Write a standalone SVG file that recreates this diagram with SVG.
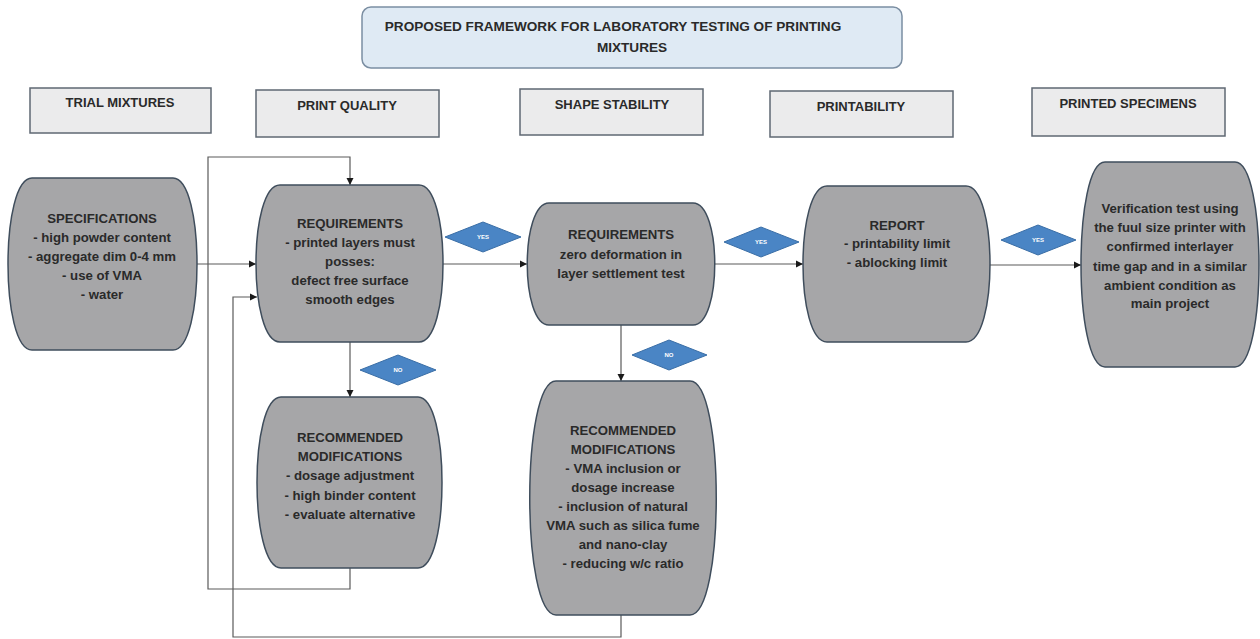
<svg xmlns="http://www.w3.org/2000/svg" width="1260" height="639" viewBox="0 0 1260 639">
<defs>
<style>
.t{font-family:"Liberation Sans",Arial,sans-serif;font-weight:bold;fill:#2a2a2a;text-anchor:middle}
.nt{font-size:13.2px}
.ht{font-size:13px}
.node{fill:#a6a6a8;stroke:#3f4d5c;stroke-width:1.5}
.hdr{fill:#ebebec;stroke:#5f6873;stroke-width:1.5}
.dia{fill:#4a85c5;stroke:#3a6ea6;stroke-width:1}
.dt{font-family:"Liberation Sans",Arial,sans-serif;font-weight:bold;font-size:6px;fill:#fff;text-anchor:middle}
.c{fill:none;stroke:#5a5a5a;stroke-width:1.2}
</style>
<marker id="ah" markerWidth="8" markerHeight="8" refX="7" refY="4" orient="auto" markerUnits="userSpaceOnUse">
<path d="M0,0.5 L7,4 L0,7.5 Z" fill="#1a1a1a"/>
</marker>
</defs>
<rect width="1260" height="639" fill="#ffffff"/>

<g id="title">
<rect x="362" y="7" width="540" height="61" rx="9" fill="#dfeaf4" stroke="#7b8ea2" stroke-width="1.5"/>
<text class="t" x="613" y="31" font-size="13.6">PROPOSED FRAMEWORK FOR LABORATORY TESTING OF PRINTING</text>
<text class="t" x="632" y="52" font-size="13.6">MIXTURES</text>
</g>

<g id="hdr-trial"><rect class="hdr" x="30" y="88" width="181" height="45"/><text class="t ht" x="120" y="107">TRIAL MIXTURES</text></g>
<g id="hdr-print"><rect class="hdr" x="256" y="90" width="183" height="47"/><text class="t ht" x="347" y="110">PRINT QUALITY</text></g>
<g id="hdr-shape"><rect class="hdr" x="520" y="89" width="183" height="46"/><text class="t ht" x="612" y="109">SHAPE STABILITY</text></g>
<g id="hdr-printability"><rect class="hdr" x="770" y="91" width="183" height="46"/><text class="t ht" x="861" y="111">PRINTABILITY</text></g>
<g id="hdr-specimens"><rect class="hdr" x="1032" y="88" width="193" height="48"/><text class="t ht" x="1128" y="108">PRINTED SPECIMENS</text></g>

<g id="connectors">
<line class="c" x1="197" y1="264" x2="256" y2="264" marker-end="url(#ah)"/>
<line class="c" x1="443" y1="264" x2="527" y2="264" marker-end="url(#ah)"/>
<line class="c" x1="715" y1="264" x2="803" y2="264" marker-end="url(#ah)"/>
<line class="c" x1="990" y1="265" x2="1081" y2="265" marker-end="url(#ah)"/>
<line class="c" x1="350" y1="342" x2="350" y2="397" marker-end="url(#ah)"/>
<line class="c" x1="621" y1="325" x2="621" y2="381" marker-end="url(#ah)"/>
<polyline class="c" points="350,568 350,589 208,589 208,157 350,157 350,185" marker-end="url(#ah)"/>
<polyline class="c" points="621,615 621,637 233,637 233,297 257,297" marker-end="url(#ah)"/>
</g>

<g id="yes1"><polygon class="dia" points="445,237 483,222 521,237 483,252"/><text class="dt" x="483" y="239">YES</text></g>
<g id="yes2"><polygon class="dia" points="724,242 761,227 799,242 761,257"/><text class="dt" x="761" y="244">YES</text></g>
<g id="yes3"><polygon class="dia" points="1001,240 1038,225 1076,240 1038,255"/><text class="dt" x="1038" y="242">YES</text></g>
<g id="no1"><polygon class="dia" points="360,370 398,355 436,370 398,385"/><text class="dt" x="398" y="372">NO</text></g>
<g id="no2"><polygon class="dia" points="632,355 669,340 707,355 669,370"/><text class="dt" x="669" y="357">NO</text></g>

<g id="specifications">
<path class="node" d="M32,178 H173 C205,178 205,350 173,350 H32 C0,350 0,178 32,178 Z"/>
<text class="t nt" x="102" y="223">SPECIFICATIONS</text>
<text class="t nt" x="102" y="242">- high powder content</text>
<text class="t nt" x="102" y="261">- aggregate dim 0-4 mm</text>
<text class="t nt" x="102" y="280">- use of VMA</text>
<text class="t nt" x="102" y="299">- water</text>
</g>

<g id="req-print">
<path class="node" d="M280,185 H419 C451,185 451,342 419,342 H280 C248,342 248,185 280,185 Z"/>
<text class="t nt" x="350" y="228">REQUIREMENTS</text>
<text class="t nt" x="350" y="247">- printed layers must</text>
<text class="t nt" x="350" y="266">posses:</text>
<text class="t nt" x="350" y="285">defect free surface</text>
<text class="t nt" x="350" y="304">smooth edges</text>
</g>

<g id="req-shape">
<path class="node" d="M549,203 H693 C722,203 722,325 693,325 H549 C520,325 520,203 549,203 Z"/>
<text class="t nt" x="621" y="239">REQUIREMENTS</text>
<text class="t nt" x="621" y="259">zero deformation in</text>
<text class="t nt" x="621" y="278">layer settlement test</text>
</g>

<g id="report">
<path class="node" d="M827,186 H966 C998,186 998,342 966,342 H827 C795,342 795,186 827,186 Z"/>
<text class="t nt" x="897" y="230">REPORT</text>
<text class="t nt" x="897" y="248">- printability limit</text>
<text class="t nt" x="897" y="267">- ablocking limit</text>
</g>

<g id="verification">
<path class="node" d="M1105,162 H1235 C1267,162 1267,367 1235,367 H1105 C1073,367 1073,162 1105,162 Z"/>
<text class="t nt" x="1170" y="213">Verification test using</text>
<text class="t nt" x="1170" y="232">the fuul size printer with</text>
<text class="t nt" x="1170" y="251">confirmed interlayer</text>
<text class="t nt" x="1170" y="271">time gap and in a similar</text>
<text class="t nt" x="1170" y="290">ambient condition as</text>
<text class="t nt" x="1170" y="308">main project</text>
</g>

<g id="mod-print">
<path class="node" d="M281,397 H418 C450,397 450,568 418,568 H281 C249,568 249,397 281,397 Z"/>
<text class="t nt" x="350" y="442">RECOMMENDED</text>
<text class="t nt" x="350" y="461">MODIFICATIONS</text>
<text class="t nt" x="350" y="480">- dosage adjustment</text>
<text class="t nt" x="350" y="500">- high binder content</text>
<text class="t nt" x="350" y="519">- evaluate alternative</text>
</g>

<g id="mod-shape">
<path class="node" d="M556,381 H690 C725,381 725,615 690,615 H556 C521,615 521,381 556,381 Z"/>
<text class="t nt" x="623" y="435">RECOMMENDED</text>
<text class="t nt" x="623" y="454">MODIFICATIONS</text>
<text class="t nt" x="623" y="473">- VMA inclusion or</text>
<text class="t nt" x="623" y="492">dosage increase</text>
<text class="t nt" x="623" y="511">- inclusion of natural</text>
<text class="t nt" x="623" y="530">VMA such as silica fume</text>
<text class="t nt" x="623" y="549">and nano-clay</text>
<text class="t nt" x="623" y="568">- reducing w/c ratio</text>
</g>
</svg>
